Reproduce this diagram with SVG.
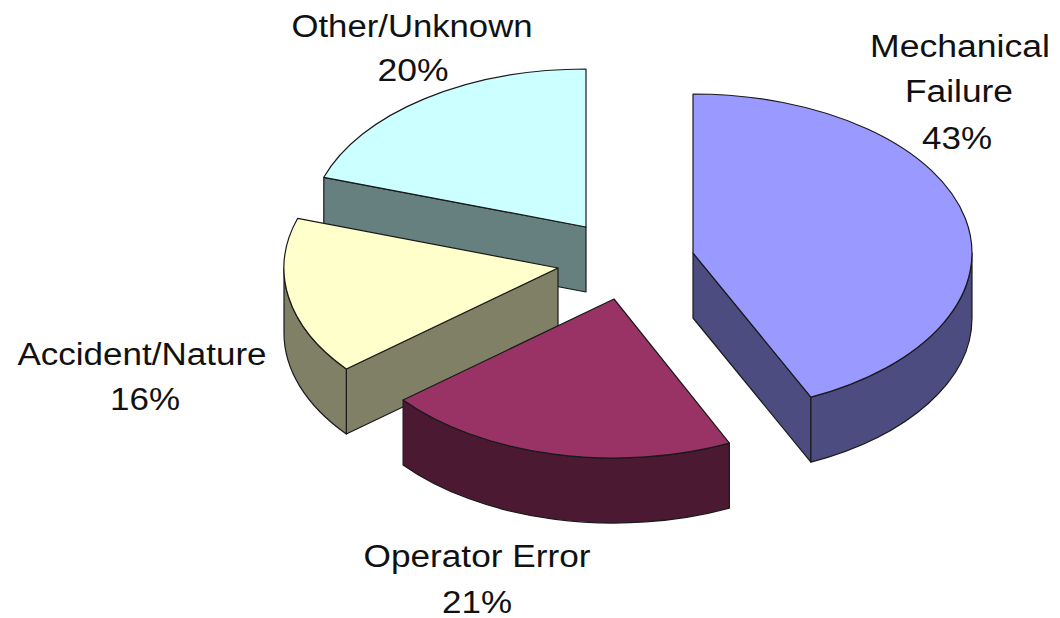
<svg xmlns="http://www.w3.org/2000/svg" width="1060" height="618" viewBox="0 0 1060 618">
<style>
.e{stroke:#1a1a1a;stroke-width:1.2;stroke-linejoin:round}
.lbl{font-family:"Liberation Sans",Arial,sans-serif;font-size:31px;fill:#111;text-anchor:middle}
</style>
<rect width="1060" height="618" fill="#ffffff"/>
<g id="slice-other">
<path class="e" fill="#668080" d="M586,227 L323.8,177.3 L323.8,242.3 L586,292 Z"/>
<path class="e" fill="#ccffff" d="M586,227 L323.8,177.3 A276 158 0 0 1 586,69 Z"/>
</g>
<g id="slice-accident">
<path class="e" fill="#808066" d="M558,268 L346.3,369 L346.3,434 L558,333 Z"/>
<path class="e" fill="#808066" d="M346.3,369 A274 159 0 0 1 284,268 L284,333 A274 159 0 0 0 346.3,434 Z"/>
<path class="e" fill="#ffffcc" d="M558,268 L346.3,369 A274 159 0 0 1 297.7,218.3 Z"/>
</g>
<g id="slice-mechanical">
<path class="e" fill="#4c4c80" d="M693,253 L810.9,397.1 L810.9,462.1 L693,318 Z"/>
<path class="e" fill="#4c4c80" d="M972,253 A279 159 0 0 1 810.9,397.1 L810.9,462.1 A279 159 0 0 0 972,318 Z"/>
<path class="e" fill="#9999ff" d="M693,253 L693,94 A279 159 0 0 1 810.9,397.1 Z"/>
</g>
<g id="slice-operator">
<path class="e" fill="#4c1933" d="M729.4,443.1 A273 159 0 0 1 403.1,400 L403.1,465 A273 159 0 0 0 729.4,508.1 Z"/>
<path class="e" fill="#993366" d="M614,299 L729.4,443.1 A273 159 0 0 1 403.1,400 Z"/>
</g>
<g id="labels">
<text class="lbl" x="412" y="37" textLength="241" lengthAdjust="spacingAndGlyphs">Other/Unknown</text>
<text class="lbl" x="413" y="81" textLength="71" lengthAdjust="spacingAndGlyphs">20%</text>
<text class="lbl" x="960" y="57" textLength="180" lengthAdjust="spacingAndGlyphs">Mechanical</text>
<text class="lbl" x="959" y="102" textLength="108" lengthAdjust="spacingAndGlyphs">Failure</text>
<text class="lbl" x="957" y="149" textLength="70" lengthAdjust="spacingAndGlyphs">43%</text>
<text class="lbl" x="142" y="365" textLength="249" lengthAdjust="spacingAndGlyphs">Accident/Nature</text>
<text class="lbl" x="145" y="410" textLength="70" lengthAdjust="spacingAndGlyphs">16%</text>
<text class="lbl" x="477" y="567" textLength="227" lengthAdjust="spacingAndGlyphs">Operator Error</text>
<text class="lbl" x="477" y="613" textLength="70" lengthAdjust="spacingAndGlyphs">21%</text>
</g>
</svg>
